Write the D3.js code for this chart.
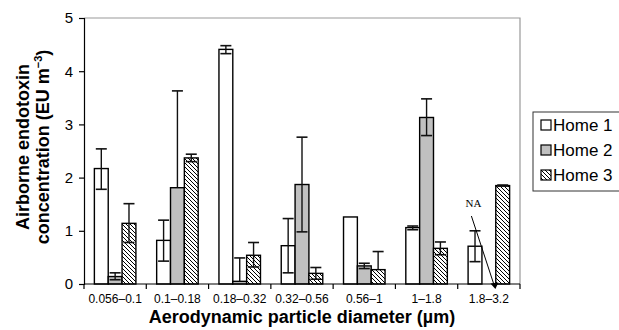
<!DOCTYPE html>
<html>
<head>
<meta charset="utf-8">
<script src="https://cdn.jsdelivr.net/npm/d3@7"></script>
<style>
	body { margin: 0; background: #fff; }
	text { font-family: Arial, "Liberation Sans", Helvetica, sans-serif; fill: #000; }
</style>
</head>
<body>
<div id="chart"></div>
<script>

// particle size classes (x axis)
var categories = ["0.056\u20130.1", "0.1\u20130.18", "0.18\u20130.32", "0.32\u20130.56", "0.56\u20131", "1\u20131.8", "1.8\u20133.2"];
var homes = ["Home 1", "Home 2", "Home 3"];

// mean concentrations, null = not available
var home1 = [2.17, 0.82, 4.41, 0.72, 1.26, 1.06, 0.71];
var home2 = [0.14, 1.81, 0.05, 1.87, 0.34, 3.13, null];
var home3 = [1.14, 2.37, 0.54, 0.20, 0.27, 0.67, 1.85];

// error bar ends (upper / lower), null = not drawn
var home1Hi = [2.54, 1.20, 4.48, 1.23, null, 1.09, 1.00];
var home1Lo = [1.78, 0.43, 4.33, 0.21, null, 1.02, 0.42];
var home2Hi = [0.21, 3.63, 0.49, 2.76, 0.39, 3.48, null];
var home2Lo = [0.08, null, null, 0.98, 0.29, 2.79, null];
var home3Hi = [1.51, 2.44, 0.78, 0.31, 0.61, 0.79, 1.86];
var home3Lo = [0.78, 2.30, 0.32, 0.09, null, 0.55, 1.84];

var yTicks = [0, 1, 2, 3, 4, 5];

// margins
var margin = {top: 18, bottom: 46, left: 84, right: 99},
	width = 619,
	height = 330,
	plotwidth = width - margin.left - margin.right,
	plotheight = height - margin.top - margin.bottom;

var svg = d3.select("#chart")
	.append("svg")
	.attr("width", width)
	.attr("height", height);

var g = svg.append("g")
	.attr("transform", "translate(" + margin.left + "," + margin.top + ")");

// hatch pattern for home 3
var defs = svg.append("defs");
var pattern = defs.append("pattern")
	.attr("id", "hatch")
	.attr("patternUnits", "userSpaceOnUse")
	.attr("width", 4)
	.attr("height", 4);
pattern.append("rect")
	.attr("width", 4)
	.attr("height", 4)
	.attr("fill", "#fff");
pattern.append("path")
	.attr("d", "M-1,-1 L5,5 M-1,3 L1,5 M3,-1 L5,1")
	.attr("stroke", "#000")
	.attr("stroke-width", 1);

var fills = ["#fff", "#c0c0c0", "url(#hatch)"];

// scales
var x = d3.scaleBand()
	.domain(categories)
	.range([0, plotwidth]);

var xInner = d3.scaleBand()
	.domain(homes)
	.range([x.bandwidth() / 6, x.bandwidth() * 5 / 6]);

var y = d3.scaleLinear()
	.domain([0, 5])
	.range([plotheight, 0]);

// build rows for bars
var series = [
	{name: homes[0], vals: home1, hi: home1Hi, lo: home1Lo},
	{name: homes[1], vals: home2, hi: home2Hi, lo: home2Lo},
	{name: homes[2], vals: home3, hi: home3Hi, lo: home3Lo}
];

var rows = [];
series.forEach(function(s, si){
	categories.forEach(function(c, ci){
		rows.push({cat: c, home: s.name, idx: si, v: s.vals[ci], hi: s.hi[ci], lo: s.lo[ci]});
	});
});

// plot frame (grey top and right)
g.append("path")
	.attr("d", "M0,0 H" + plotwidth + " V" + plotheight)
	.attr("fill", "none")
	.attr("stroke", "#999")
	.attr("stroke-width", 1.2);

// bars
g.selectAll("rect.bar")
	.data(rows.filter(function(d){ return d.v !== null; }))
	.enter()
	.append("rect")
	.attr("class", "bar")
	.attr("x", function(d){ return x(d.cat) + xInner(d.home); })
	.attr("y", function(d){ return y(d.v); })
	.attr("width", xInner.bandwidth())
	.attr("height", function(d){ return y(0) - y(d.v); })
	.attr("fill", function(d){ return fills[d.idx]; })
	.attr("stroke", "#000")
	.attr("stroke-width", 1.4);

// error bars
var capw = 5.5;
rows.forEach(function(d){
	if (d.v === null) return;
	var cx = x(d.cat) + xInner(d.home) + xInner.bandwidth() / 2;
	var top = d.hi !== null ? d.hi : d.v;
	var bot = d.lo !== null ? d.lo : d.v;
	if (top === bot) return;
	g.append("line")
		.attr("x1", cx).attr("x2", cx)
		.attr("y1", y(top)).attr("y2", y(bot))
		.attr("stroke", "#111").attr("stroke-width", 1.4);
	[d.hi, d.lo].forEach(function(e){
		if (e === null) return;
		g.append("line")
			.attr("x1", cx - capw).attr("x2", cx + capw)
			.attr("y1", y(e)).attr("y2", y(e))
			.attr("stroke", "#111").attr("stroke-width", 1.6);
	});
});

// y axis
var yAxis = g.append("g")
	.call(d3.axisLeft(y).tickValues(yTicks).tickSize(5).tickPadding(6).tickFormat(d3.format("d")));
yAxis.select(".domain").attr("stroke", "#000").attr("stroke-width", 1.2);
yAxis.selectAll(".tick line").attr("stroke", "#000").attr("stroke-width", 1.2);
yAxis.selectAll("text")
	.style("font-size", "15px")
	.attr("fill", "#000");

// x axis: ticks between the groups
var xAxis = g.append("g")
	.attr("transform", "translate(0," + plotheight + ")");
xAxis.append("line")
	.attr("x1", 0).attr("x2", plotwidth)
	.attr("stroke", "#000").attr("stroke-width", 1.2);
xAxis.selectAll("line.tick")
	.data(categories.concat(["end"]))
	.enter()
	.append("line")
	.attr("class", "tick")
	.attr("x1", function(d, i){ return i * x.step(); })
	.attr("x2", function(d, i){ return i * x.step(); })
	.attr("y1", 0).attr("y2", 5)
	.attr("stroke", "#000").attr("stroke-width", 1.2);
xAxis.selectAll("text")
	.data(categories)
	.enter()
	.append("text")
	.attr("x", function(d){ return x(d) + x.bandwidth() / 2; })
	.attr("y", 19)
	.attr("text-anchor", "middle")
	.style("font-size", "12px")
	.text(function(d){ return d; });

// axis titles
svg.append("text")
	.attr("x", margin.left + plotwidth / 2)
	.attr("y", 323)
	.attr("text-anchor", "middle")
	.style("font-size", "18px")
	.style("font-weight", "bold")
	.text("Aerodynamic particle diameter (\u00b5m)");

var ytitle = svg.append("g")
	.attr("transform", "translate(0,147) rotate(-90)");
ytitle.append("text")
	.attr("x", 0).attr("y", 29)
	.attr("text-anchor", "middle")
	.style("font-size", "18px")
	.style("font-weight", "bold")
	.text("Airborne endotoxin");
var yt2 = ytitle.append("text")
	.attr("x", 0).attr("y", 49)
	.attr("text-anchor", "middle")
	.style("font-size", "18px")
	.style("font-weight", "bold");
yt2.append("tspan").text("concentration (EU m");
yt2.append("tspan")
	.attr("dy", -7)
	.style("font-size", "11px")
	.text("\u22123");
yt2.append("tspan")
	.attr("dy", 7)
	.text(")");

// NA annotation for missing home 2 value
var naCat = categories[6];
var naX = x(naCat) + xInner(homes[1]) + xInner.bandwidth() * 0.9;
g.append("text")
	.attr("x", naX - 21)
	.attr("y", 189)
	.attr("text-anchor", "middle")
	.style("font-family", "'Liberation Serif', 'Times New Roman', serif")
	.style("font-size", "11px")
	.text("NA");
g.append("line")
	.attr("x1", naX - 23).attr("y1", 198)
	.attr("x2", naX).attr("y2", plotheight + 2)
	.attr("stroke", "#000").attr("stroke-width", 1);
g.append("path")
	.attr("d", "M" + (naX - 4) + "," + (plotheight - 0.5) + " L" + (naX + 4) + "," + (plotheight - 1.5) + " L" + (naX + 1) + "," + (plotheight + 5) + " Z")
	.attr("fill", "#000");

// legend
var legend = svg.append("g")
	.attr("transform", "translate(533,112)");
legend.append("rect")
	.attr("width", 100)
	.attr("height", 79)
	.attr("fill", "#fff")
	.attr("stroke", "#333")
	.attr("stroke-width", 1);
var item = legend.selectAll("g.item")
	.data(homes)
	.enter()
	.append("g")
	.attr("class", "item")
	.attr("transform", function(d, i){ return "translate(8," + (8 + i * 25) + ")"; });
item.append("rect")
	.attr("width", 10)
	.attr("height", 10)
	.attr("fill", function(d, i){ return fills[i]; })
	.attr("stroke", "#000")
	.attr("stroke-width", 1.2);
item.append("text")
	.attr("x", 12)
	.attr("y", 11)
	.style("font-size", "17px")
	.text(function(d){ return d; });

</script>
</body>
</html>
